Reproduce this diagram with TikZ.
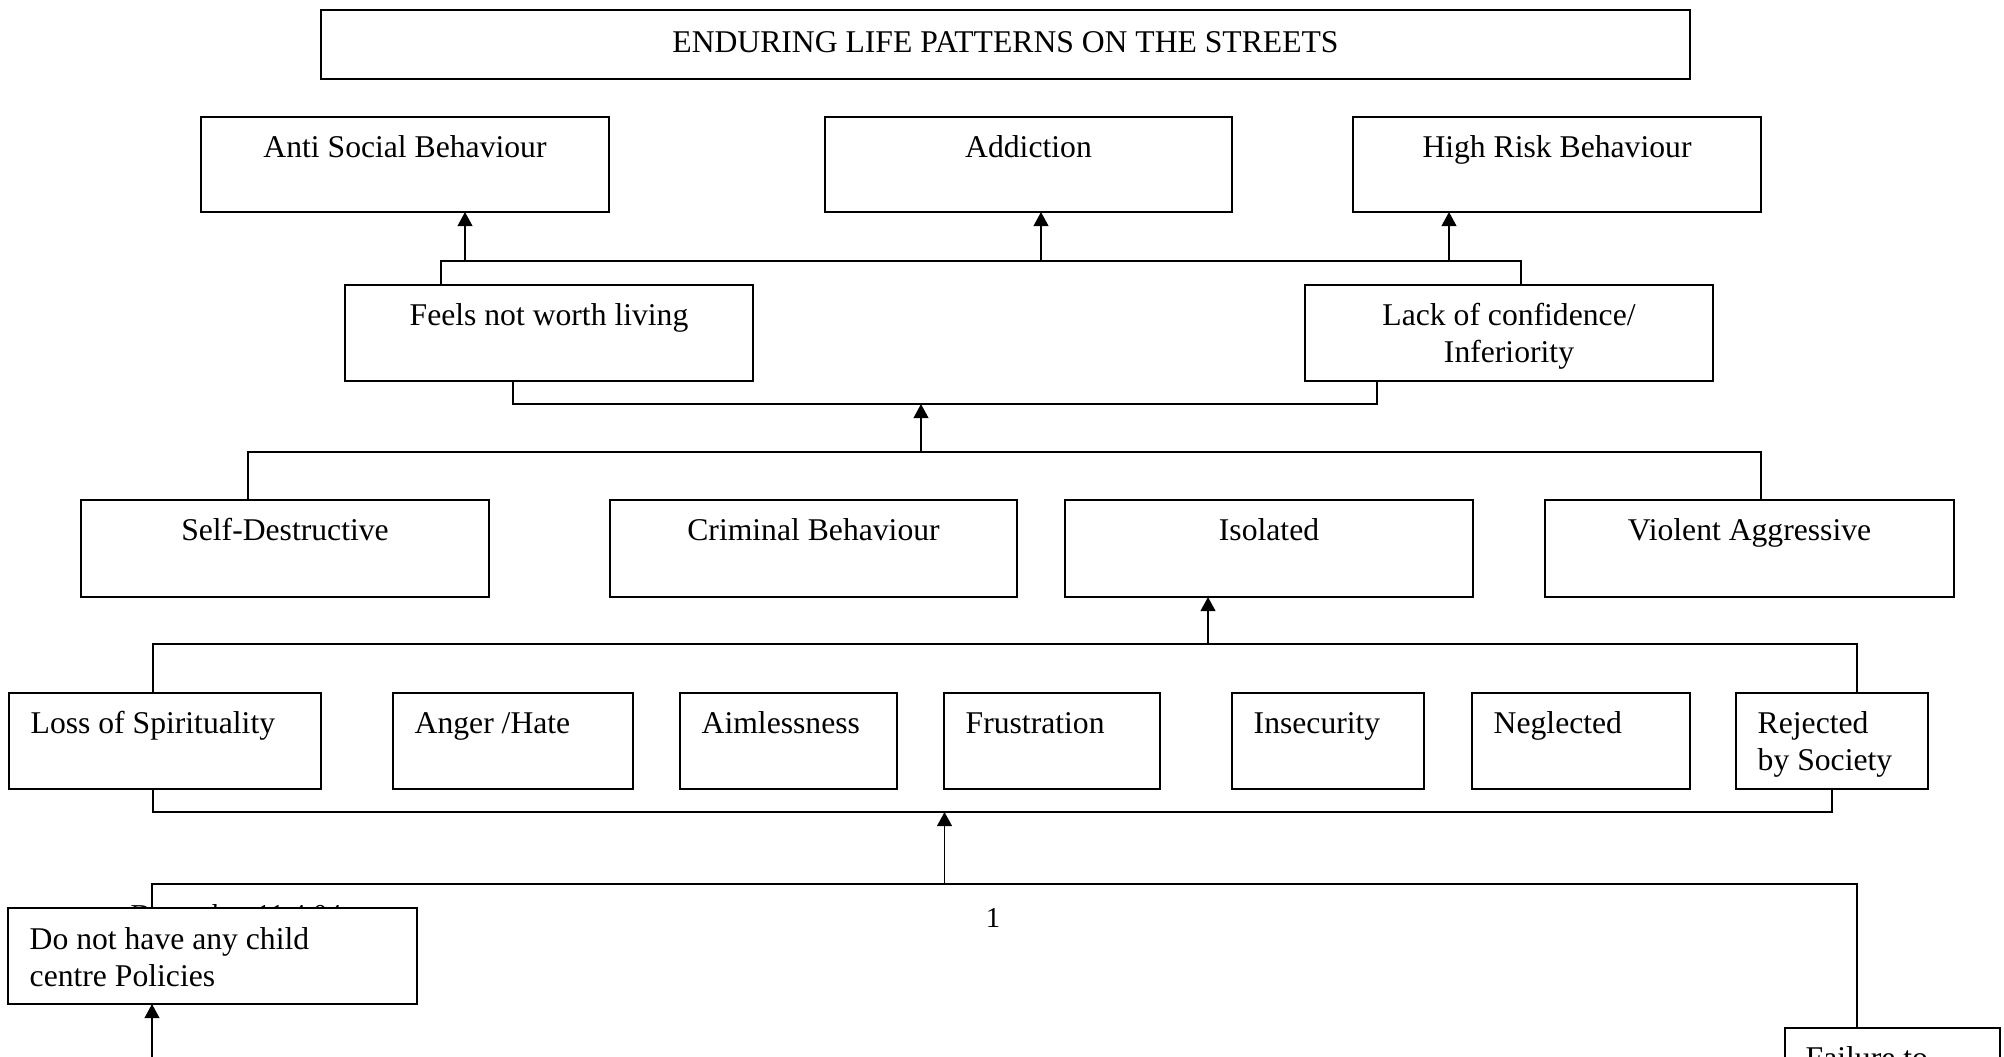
\documentclass[tikz,border=0pt]{standalone}
\usepackage{fontspec}
\setmainfont{Liberation Serif}
\usetikzlibrary{arrows.meta}

% box: name, left, top, right, bottom (in page pixels)
\newcommand\mkbox[5]{%
  \node[box, minimum width={(#4-#2)*0.01cm}, minimum height={(#5-#3)*0.01cm}] (#1) at (#2,#3) {};}

\begin{document}
\begin{tikzpicture}[x=0.01cm, y=-0.01cm,
  box/.style={draw, fill=white, line width=0.5pt, inner sep=0pt, outer sep=0pt, anchor=north west},
  lbl/.style={inner sep=0pt, font=\fontsize{9}{10.5}\selectfont},
  small/.style={inner sep=0pt, font=\fontsize{8.2}{10}\selectfont},
  link/.style={line width=0.5pt},
  arr/.style={link, -{Triangle[width=4.2pt,length=4pt]}},
]
\useasboundingbox (0,0) rectangle (2004,1056);
\clip (0,0) rectangle (2004,1056);

% ---------- title ----------
\mkbox{title}{321}{10}{1690}{79}
\node[lbl, anchor=base] (t-title) at (1005.5,52) {ENDURING LIFE PATTERNS ON THE STREETS};

% ---------- outcomes ----------
\mkbox{anti}{201}{117}{609}{212}
\node[lbl, anchor=base] (t-anti) at (405,157) {Anti Social Behaviour};
\mkbox{addict}{825}{117}{1232}{212}
\node[lbl, anchor=base] (t-addict) at (1028.5,157) {Addiction};
\mkbox{risk}{1353}{117}{1761}{212}
\node[lbl, anchor=base] (t-risk) at (1557,157) {High Risk Behaviour};

% ---------- feelings ----------
\mkbox{feels}{345}{285}{753}{381}
\node[lbl, anchor=base] (t-feels) at (549,325) {Feels not worth living};
\mkbox{lack}{1305}{285}{1713}{381}
\node[lbl, anchor=base] (t-lack1) at (1509,325) {Lack of confidence/};
\node[lbl, anchor=base] (t-lack2) at (1509,362) {Inferiority};

% ---------- behaviours ----------
\mkbox{selfd}{81}{500}{489}{597}
\node[lbl, anchor=base] (t-selfd) at (285,540) {Self-Destructive};
\mkbox{crim}{610}{500}{1017}{597}
\node[lbl, anchor=base] (t-crim) at (813.5,540) {Criminal Behaviour};
\mkbox{iso}{1065}{500}{1473}{597}
\node[lbl, anchor=base] (t-iso) at (1269,540) {Isolated};
\mkbox{viol}{1545}{500}{1954}{597}
\node[lbl, anchor=base] (t-viol) at (1749.5,540) {Violent Aggressive};

% ---------- emotional states ----------
\mkbox{loss}{9}{693}{321}{789}
\node[lbl, anchor=base west] (t-loss) at (30,733) {Loss of Spirituality};
\mkbox{anger}{393}{693}{633}{789}
\node[lbl, anchor=base west] (t-anger) at (414,733) {Anger /Hate};
\mkbox{aim}{680}{693}{897}{789}
\node[lbl, anchor=base west] (t-aim) at (701,733) {Aimlessness};
\mkbox{frus}{944}{693}{1160}{789}
\node[lbl, anchor=base west] (t-frus) at (965,733) {Frustration};
\mkbox{insec}{1232}{693}{1424}{789}
\node[lbl, anchor=base west] (t-insec) at (1253,733) {Insecurity};
\mkbox{negl}{1472}{693}{1690}{789}
\node[lbl, anchor=base west] (t-negl) at (1493,733) {Neglected};
\mkbox{rej}{1736}{693}{1928}{789}
\node[lbl, anchor=base west] (t-rej1) at (1757,733) {Rejected};
\node[lbl, anchor=base west] (t-rej2) at (1757,770) {by Society};

% ---------- footer text (partly covered) and page number ----------
\node[small, anchor=base west] (t-date) at (130,924) {December 11.4.04};
\node[small, anchor=base] (t-page) at (993,927) {1};

% ---------- causes ----------
\mkbox{dnh}{8}{908}{417}{1004}
\node[lbl, anchor=base west] (t-dnh1) at (29,949) {Do not have any child};
\node[lbl, anchor=base west] (t-dnh2) at (29,986) {centre Policies};
\mkbox{fail}{1785}{1028}{2000}{1110}
\node[lbl, anchor=base west] (t-fail) at (1805,1068) {Failure to};

% ---------- connectors ----------
% feelings -> outcomes
\coordinate (ua) at (441,261); \coordinate (ub) at (1521,261);
\coordinate (ta) at (465,261); \coordinate (tb) at (1041,261); \coordinate (tc) at (1449,261);
\draw[link] (feels.north -| ua) -- (ua) -- (ub) -- (lack.north -| ub);
\draw[arr] (ta) -- (anti.south -| ta);
\draw[arr] (tb) -- (addict.south -| tb);
\draw[arr] (tc) -- (risk.south -| tc);

% behaviours -> feelings
\coordinate (la) at (513,404); \coordinate (lb) at (1377,404); \coordinate (lm) at (921,404);
\draw[link] (feels.south -| la) -- (la) -- (lb) -- (lack.south -| lb);
\coordinate (ma) at (248,452); \coordinate (mb) at (1761,452); \coordinate (mm) at (921,452);
\draw[link] (selfd.north -| ma) -- (ma) -- (mb) -- (viol.north -| mb);
\draw[arr] (mm) -- (lm);

% emotional states -> behaviours
\coordinate (na) at (153,644); \coordinate (nb) at (1857,644); \coordinate (nm) at (1208,644);
\draw[link] (loss.north -| na) -- (na) -- (nb) -- (rej.north -| nb);
\draw[arr] (nm) -- (iso.south -| nm);

% causes -> emotional states
\coordinate (pa) at (153,812); \coordinate (pb) at (1832,812); \coordinate (pm) at (944.5,812);
\draw[link] (loss.south -| pa) -- (pa) -- (pb) -- (rej.south -| pb);
\coordinate (qa) at (152,884); \coordinate (qb) at (1857,884); \coordinate (qm) at (944.5,884);
\draw[link] (dnh.north -| qa) -- (qa) -- (qb) -- (fail.north -| qb);
\draw[arr] (qm) -- (pm);
\coordinate (rb) at (152,1080);
\draw[arr] (rb) -- (dnh.south -| rb);
\end{tikzpicture}
\end{document}
